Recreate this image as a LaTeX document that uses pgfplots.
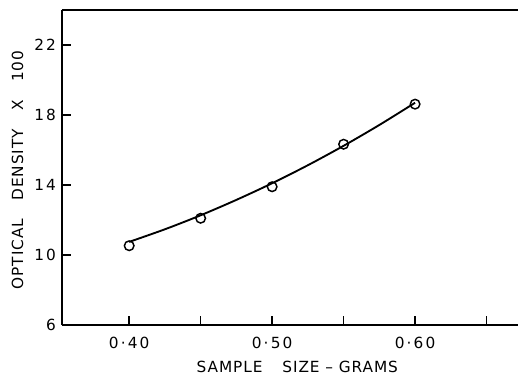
\documentclass[border=0pt]{standalone}
\usepackage{fontspec}
\setmainfont{DejaVu Sans}
\newfontfamily\lab[LetterSpace=6]{DejaVu Sans}
\newfontfamily\tlab[LetterSpace=14]{DejaVu Sans}
\usepackage{pgfplots}
\pgfplotsset{compat=1.18}
\pgfplotstableread{
x y
0.40 10.53
0.45 12.10
0.50 13.90
0.55 16.33
0.60 18.62
}\pts
\pgfplotstableread{
x y
0.400 10.75
0.425 11.47
0.450 12.27
0.475 13.15
0.500 14.10
0.525 15.13
0.550 16.24
0.575 17.43
0.600 18.70
}\fit
\begin{document}
\begin{tikzpicture}
\path[use as bounding box] (-46.5pt,-37.5pt) rectangle (342pt,243.75pt);
\begin{axis}[
  at={(0,0)}, anchor=south west,
  scale only axis, width=342pt, height=236.25pt,
  xmin=0.353, xmax=0.672, ymin=6, ymax=24,
  axis x line*=bottom, axis y line*=left,
  axis line style={line width=1.3pt},
  tick align=inside, major tick length=7pt,
  tick style={line width=1.2pt, black},
  xtick={0.40,0.45,0.50,0.55,0.60,0.65},
  xticklabels={{0·40},{},{0·50},{},{0·60},{}},
  ytick={6,10,14,18,22},
  yticklabels={6,10,14,18,22},
  ticklabel style={font=\fontsize{11.5}{12}\tlab},
  xticklabel style={anchor=center, yshift=-13.5pt},
  yticklabel style={xshift=-1pt},
  xlabel={SAMPLE\hspace{1.3em}SIZE – GRAMS},
  ylabel={OPTICAL\hspace{1.2em}DENSITY\hspace{1.2em}X\hspace{1.2em}100},
  label style={font=\fontsize{11.5}{12}\lab},
  xlabel style={at={(axis description cs:0.516,-0.133)}, anchor=center},
  ylabel style={at={(axis description cs:-0.0976,0.492)}, anchor=center, rotate=0},
]
\draw[line width=1.3pt] (rel axis cs:0,1) -- (rel axis cs:1,1);
\addplot[black, line width=1.4pt, smooth, no marks] table[x=x,y=y] {\fit};
\addplot[only marks, mark=o, mark size=3.6pt, mark options={fill=white, line width=1.1pt}] table[x=x,y=y] {\pts};
\end{axis}
\end{tikzpicture}
\end{document}
